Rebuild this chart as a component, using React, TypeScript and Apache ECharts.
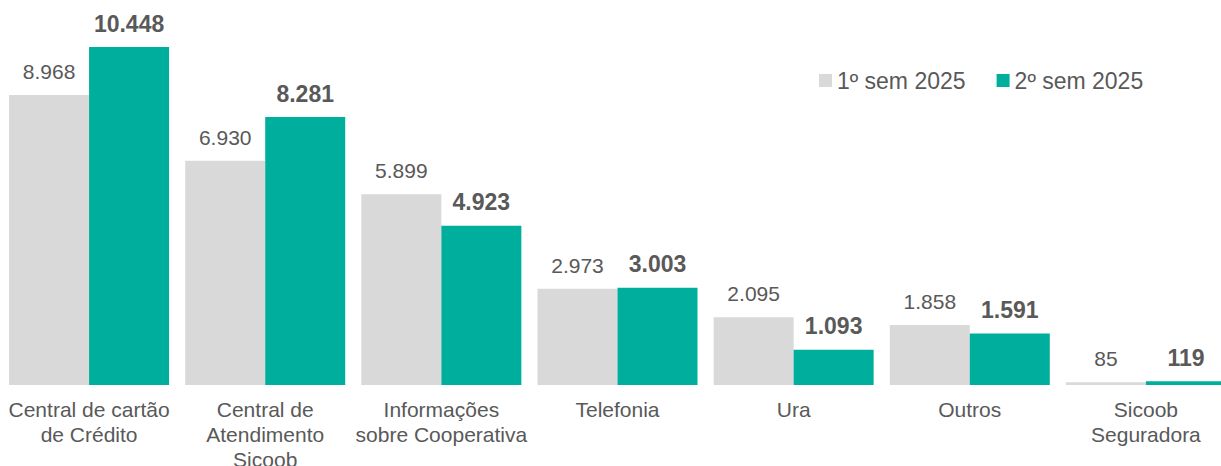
import React, { useEffect, useRef } from "react";
import * as echarts from "echarts";

const categories = [
  "Central de cartão\nde Crédito",
  "Central de\nAtendimento\nSicoob",
  "Informações\nsobre Cooperativa",
  "Telefonia",
  "Ura",
  "Outros",
  "Sicoob\nSeguradora",
];
const sem1Name = "1º sem 2025";
const sem2Name = "2º sem 2025";
const sem1 = [8968, 6930, 5899, 2973, 2095, 1858, 85];
const sem2 = [10448, 8281, 4923, 3003, 1093, 1591, 119];

const FONT = "'Liberation Sans', Arial, sans-serif";
const fmt = (v: number) => v.toLocaleString("pt-BR");

export default function App() {
  const ref = useRef<HTMLDivElement>(null);
  useEffect(() => {
    if (!ref.current) return;
    const chart = echarts.init(ref.current, null, { renderer: "svg" });
    chart.setOption({
      animation: false,
      textStyle: { fontFamily: FONT },
      legend: {
        left: 814,
        top: 64,
        icon: "rect",
        itemWidth: 13,
        itemHeight: 13,
        itemGap: 31,
        textStyle: { fontSize: 23, color: "#595959", fontFamily: FONT },
        data: [sem1Name, sem2Name],
      },
      grid: {
        left: 1,
        right: 0,
        top: 47,
        bottom: 81,
        containLabel: false,
        outerBoundsMode: "none",
      },
      xAxis: {
        type: "category",
        data: categories,
        axisLine: { show: false },
        axisTick: { show: false },
        axisLabel: {
          interval: 0,
          margin: 12,
          fontSize: 21,
          lineHeight: 25,
          color: "#595959",
          fontFamily: FONT,
        },
      },
      yAxis: {
        type: "value",
        min: 0,
        max: 10448,
        show: false,
        splitLine: { show: false },
      },
      series: [
        {
          name: sem1Name,
          type: "bar",
          data: sem1,
          barWidth: 80,
          barGap: "0%",
          itemStyle: { color: "#D9D9D9" },
          label: {
            show: true,
            position: "top",
            distance: 13,
            fontSize: 21,
            color: "#595959",
            fontFamily: FONT,
            formatter: (p: any) => fmt(p.value),
          },
        },
        {
          name: sem2Name,
          type: "bar",
          data: sem2,
          barWidth: 80,
          barGap: "0%",
          itemStyle: { color: "#00AE9D" },
          label: {
            show: true,
            position: "top",
            distance: 12,
            fontSize: 23,
            fontWeight: "bold",
            color: "#595959",
            fontFamily: FONT,
            formatter: (p: any) => fmt(p.value),
          },
        },
      ],
    });
    return () => chart.dispose();
  }, []);
  return (
    <div
      style={{
        position: "fixed",
        left: 0,
        top: 0,
        width: 1221,
        height: 466,
        overflow: "hidden",
        background: "#fff",
      }}
    >
      <div ref={ref} style={{ width: 1234, height: 466 }} />
    </div>
  );
}
